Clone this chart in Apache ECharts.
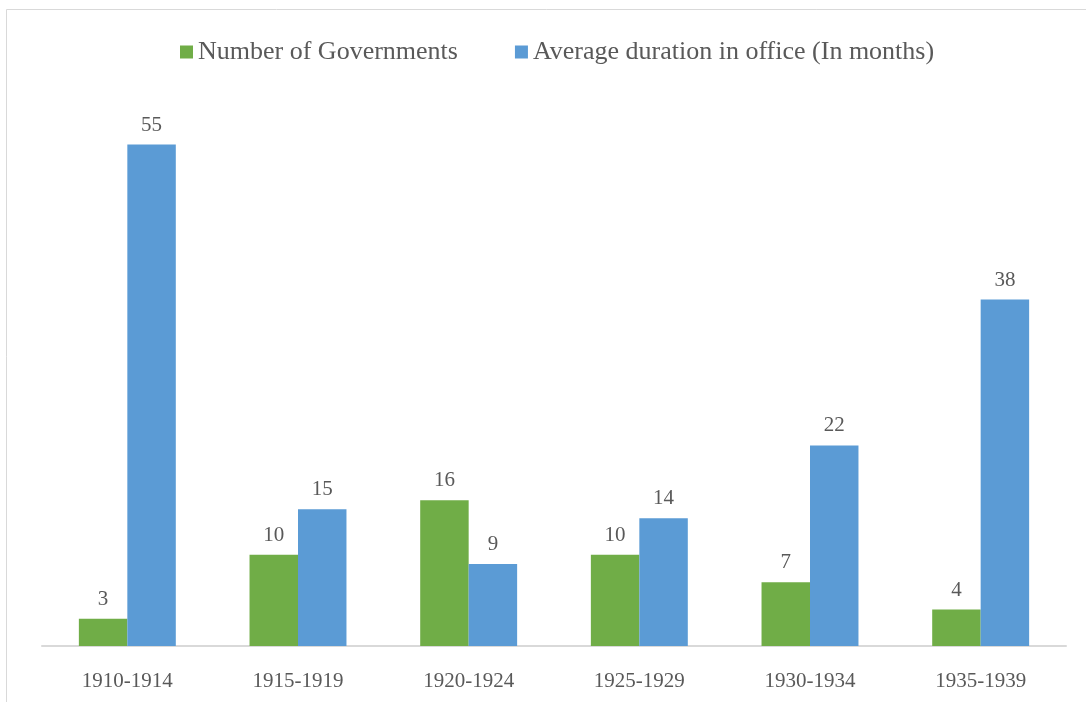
<!DOCTYPE html>
<html>
<head>
<meta charset="utf-8">
<script src="https://cdn.jsdelivr.net/npm/echarts@6/dist/echarts.min.js"></script>
<style>
  html, body { margin: 0; padding: 0; background: #fff; }
  #chart { width: 1086px; height: 702px; }
</style>
</head>
<body>
<div id="chart"></div>
<script>
// Periods and values
const periods = ['1910-1914', '1915-1919', '1920-1924', '1925-1929', '1930-1934', '1935-1939'];
const numGovernments = [3, 10, 16, 10, 7, 4];
const avgDuration = [55, 15, 9, 14, 22, 38];

const FONT = 'Liberation Serif';
const TEXT = '#595959';

const chart = echarts.init(document.getElementById('chart'));
chart.setOption({
  animation: false,
  backgroundColor: '#fff',
  graphic: [{
    type: 'rect',
    shape: { x: 6.5, y: 9.5, width: 1100, height: 720 },
    style: { fill: 'none', stroke: '#d9d9d9', lineWidth: 1 },
    silent: true
  }],
  legend: {
    top: 34,
    left: 175,
    itemWidth: 13,
    itemHeight: 13,
    itemGap: 57,
    icon: 'rect',
    textStyle: { fontFamily: FONT, fontSize: 26, color: TEXT },
    data: ['Number of Governments', 'Average duration in office (In months)']
  },
  grid: { left: 42, right: 20, top: 99, bottom: 56, containLabel: false },
  xAxis: {
    type: 'category',
    data: periods,
    axisLine: { lineStyle: { color: '#d9d9d9', width: 2 } },
    axisTick: { show: false },
    axisLabel: { fontFamily: FONT, fontSize: 21, color: TEXT, margin: 25 }
  },
  yAxis: {
    type: 'value',
    min: 0,
    max: 60,
    show: false,
    splitLine: { show: false }
  },
  series: [
    {
      name: 'Number of Governments',
      type: 'bar',
      data: numGovernments,
      barWidth: '28.4%',
      barGap: '0%',
      itemStyle: { color: '#70AD47' },
      label: { show: true, position: 'top', distance: 9, fontFamily: FONT, fontSize: 21, color: TEXT }
    },
    {
      name: 'Average duration in office (In months)',
      type: 'bar',
      data: avgDuration,
      barWidth: '28.4%',
      itemStyle: { color: '#5B9BD5' },
      label: { show: true, position: 'top', distance: 9, fontFamily: FONT, fontSize: 21, color: TEXT }
    }
  ]
});
</script>
</body>
</html>
